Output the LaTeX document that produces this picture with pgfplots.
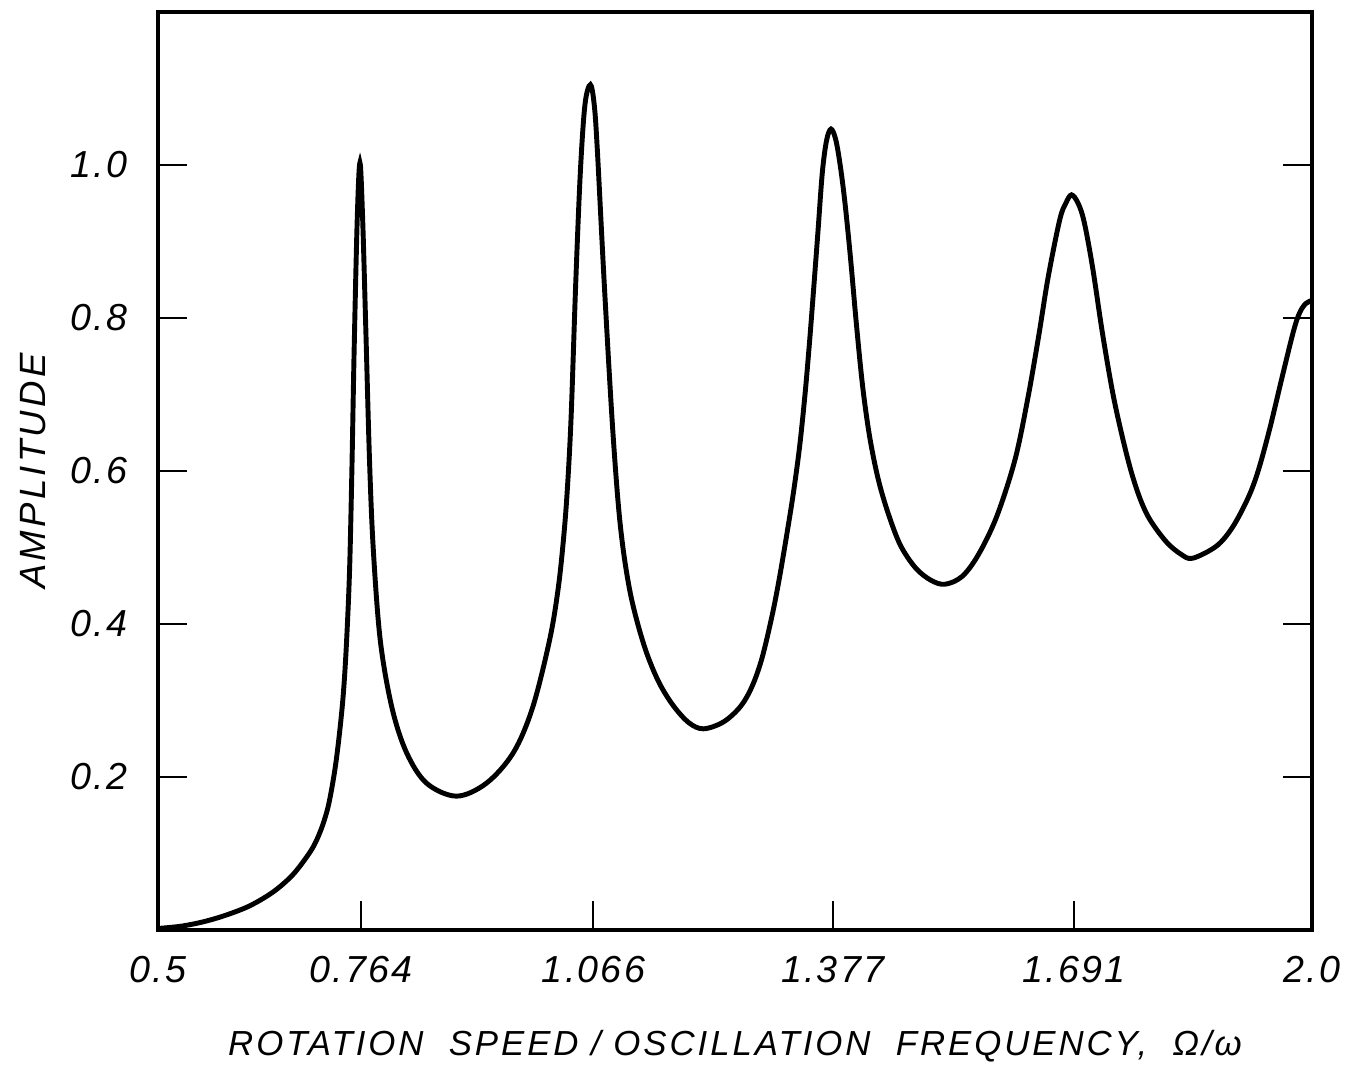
\documentclass[border=0pt]{standalone}
\usepackage{fontspec}
\setmainfont{Liberation Sans}[LetterSpace=6]
\usepackage{pgfplots}
\pgfplotsset{compat=1.18}

\pgfplotstableread{
x       y
0.500   0.002
0.530   0.005
0.560   0.011
0.590   0.020
0.620   0.032
0.650   0.050
0.675   0.072
0.695   0.098
0.705   0.115
0.714   0.137
0.722   0.165
0.730   0.210
0.736   0.258
0.741   0.310
0.745   0.375
0.749   0.470
0.752   0.600
0.755   0.760
0.759   0.930
0.7625  1.003
0.766   0.930
0.770   0.790
0.775   0.612
0.780   0.495
0.789   0.378
0.804   0.291
0.823   0.232
0.849   0.192
0.888   0.175
0.927   0.192
0.962   0.232
0.987   0.291
1.009   0.379
1.020   0.445
1.027   0.510
1.032   0.575
1.037   0.671
1.043   0.846
1.049   0.991
1.055   1.079
1.062   1.105
1.067   1.079
1.071   1.021
1.080   0.846
1.090   0.671
1.098   0.560
1.105   0.495
1.114   0.440
1.125   0.395
1.137   0.357
1.152   0.322
1.170   0.293
1.190   0.271
1.209   0.263
1.235   0.272
1.257   0.292
1.272   0.318
1.285   0.355
1.298   0.410
1.307   0.456
1.317   0.515
1.326   0.572
1.334   0.632
1.341   0.700
1.347   0.770
1.353   0.848
1.358   0.915
1.3635  0.990
1.369   1.032
1.3748  1.047
1.381   1.033
1.387   0.998
1.393   0.950
1.400   0.880
1.408   0.790
1.416   0.710
1.425   0.645
1.436   0.590
1.449   0.545
1.465   0.503
1.485   0.473
1.505   0.457
1.523   0.452
1.545   0.462
1.566   0.490
1.590   0.540
1.614   0.615
1.631   0.697
1.645   0.778
1.657   0.853
1.672   0.928
1.680   0.950
1.6874  0.961
1.696   0.950
1.704   0.925
1.715   0.865
1.728   0.778
1.743   0.692
1.761   0.614
1.775   0.568
1.789   0.537
1.811   0.507
1.830   0.491
1.845   0.486
1.876   0.502
1.897   0.527
1.917   0.565
1.930   0.600
1.945   0.655
1.961   0.722
1.976   0.783
1.984   0.807
1.992   0.819
2.000   0.823
}\amplitude

\begin{document}
\begin{tikzpicture}
\useasboundingbox (-1.58,-1.37) rectangle (11.89,9.30);
\begin{axis}[
    scale only axis,
    width=11.54cm, height=9.18cm,
    xmin=0.5, xmax=2.0, ymin=0, ymax=1.2,
    xtick={0.5,0.764,1.066,1.377,1.691,2.0},
    xticklabels={0.5,0.764,1.066,1.377,1.691,2.0},
    ytick={0.2,0.4,0.6,0.8,1.0},
    yticklabels={0.2,0.4,0.6,0.8,1.0},
    tick align=inside,
    xtick pos=left, ytick pos=both, yticklabel pos=left,
    major tick length=0.29cm,
    axis line style={line width=0.9pt},
    every tick/.style={black, line width=0.6pt},
    /pgf/number format/assume math mode=true,
    tick label style={font=\fontsize{10.7}{12}\selectfont\itshape, inner sep=0pt},
    xticklabel style={anchor=base, yshift=-0.52cm},
    yticklabel style={anchor=east, xshift=-0.30cm},
    xlabel={ROTATION\ \ SPEED / OSCILLATION\ \ FREQUENCY,\ \ Ω/ω},
    ylabel={AMPLITUDE},
    xlabel style={font=\fontsize{9.9}{12}\selectfont\itshape\addfontfeature{LetterSpace=8.5},
        at={([yshift=-1.25cm]rel axis cs:0.5,0)}, anchor=base},
    ylabel style={font=\fontsize{10.4}{12}\selectfont\itshape\addfontfeature{LetterSpace=9},
        at={([xshift=-1.245cm]rel axis cs:0,0.5)}, anchor=center},
]
\addplot[black, line width=1.4pt, smooth, tension=0.55, mark=none] table {\amplitude};
\end{axis}
\end{tikzpicture}
\end{document}
